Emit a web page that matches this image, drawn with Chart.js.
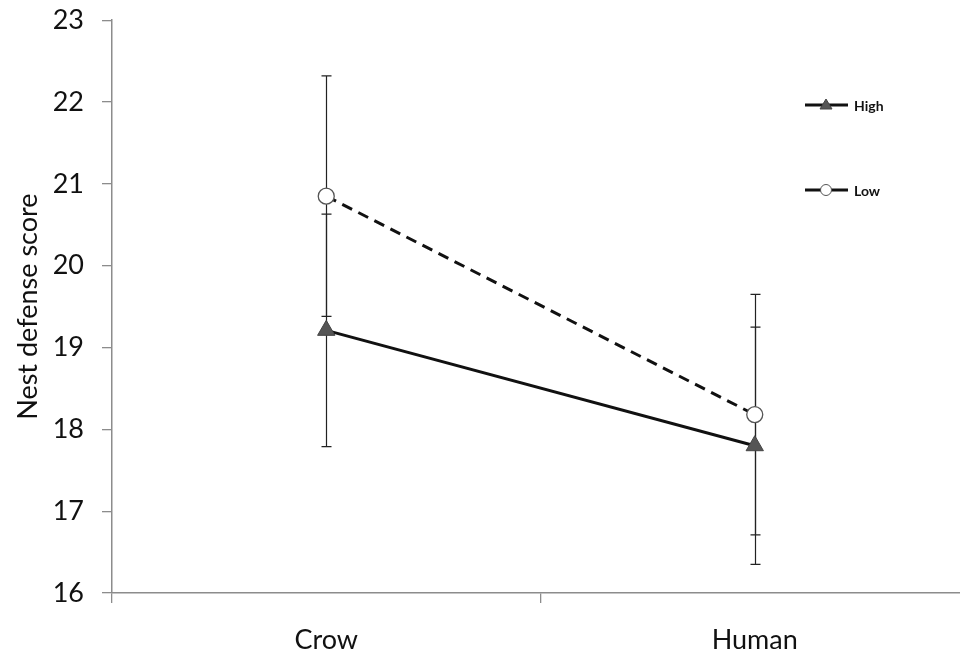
<!DOCTYPE html>
<html>
<head>
<meta charset="utf-8">
<script src="https://cdn.jsdelivr.net/npm/chart.js@4"></script>
<style>
  html, body { margin: 0; padding: 0; background: #fff; overflow: hidden; }
  #wrap { width: 960px; height: 658px; position: relative; overflow: hidden; }
  #c { position: absolute; left: 0; top: -14px; }
</style>
</head>
<body>
<div id="wrap"><canvas id="c" width="980" height="672"></canvas></div>
<script>
// Stimulus type on the x axis
const categories = ['Crow', 'Human'];
// Group means and half-widths of the error bars
const highMean = [19.21, 17.80];
const highErr  = [1.42, 1.45];
const lowMean  = [20.85, 18.18];
const lowErr   = [1.47, 1.47];
// Y axis range and step
const yTicks = [16, 17, 18, 19, 20, 21, 22, 23];

const FONT = 'Lato, "Liberation Sans", sans-serif';

// Vertical error bars with caps, drawn under the lines and markers
const errorBars = {
  id: 'errorBars',
  beforeDatasetsDraw(chart) {
    const ctx = chart.ctx;
    const x = chart.scales.x, y = chart.scales.y;
    ctx.save();
    ctx.strokeStyle = '#222';
    ctx.lineWidth = 1.2;
    chart.data.datasets.forEach(ds => {
      ds.data.forEach((v, i) => {
        const e = ds.errors[i];
        const px = Math.round(x.getPixelForValue(i)) + 0.5;
        const top = y.getPixelForValue(v + e);
        const bot = y.getPixelForValue(v - e);
        ctx.beginPath();
        ctx.moveTo(px, top); ctx.lineTo(px, bot);
        ctx.moveTo(px - 5, top); ctx.lineTo(px + 5, top);
        ctx.moveTo(px - 5, bot); ctx.lineTo(px + 5, bot);
        ctx.stroke();
      });
    });
    ctx.restore();
  }
};

// Key at the upper right: short line with the marker and a bold label
const keyBox = {
  id: 'keyBox',
  afterDraw(chart) {
    const ctx = chart.ctx;
    const rows = [119, 204];
    ctx.save();
    chart.data.datasets.forEach((ds, k) => {
      const yy = rows[k];
      const x0 = 805, x1 = 848, xm = 826;
      ctx.strokeStyle = '#111';
      ctx.lineWidth = 3;
      ctx.setLineDash([]);
      ctx.beginPath(); ctx.moveTo(x0, yy); ctx.lineTo(x1, yy); ctx.stroke();
      ctx.lineWidth = 1;
      ctx.fillStyle = ds.pointBackgroundColor;
      ctx.strokeStyle = ds.pointBorderColor;
      ctx.beginPath();
      if (ds.pointStyle === 'triangle') {
        ctx.moveTo(xm, yy - 6); ctx.lineTo(xm + 6, yy + 4); ctx.lineTo(xm - 6, yy + 4); ctx.closePath();
      } else {
        ctx.arc(xm, yy, 5.5, 0, Math.PI * 2);
      }
      ctx.fill(); ctx.stroke();
      ctx.fillStyle = '#111';
      ctx.font = 'bold 14px ' + FONT;
      ctx.textBaseline = 'middle';
      ctx.textAlign = 'left';
      ctx.fillText(ds.label, 854, yy + 1);
    });
    ctx.restore();
  }
};

new Chart(document.getElementById('c'), {
  type: 'line',
  data: {
    labels: categories,
    datasets: [
      {
        label: 'High',
        data: highMean,
        errors: highErr,
        borderColor: '#111',
        borderWidth: 3,
        pointStyle: 'triangle',
        pointRadius: 10,
        pointBackgroundColor: '#555',
        pointBorderColor: '#444',
        pointBorderWidth: 1,
        tension: 0
      },
      {
        label: 'Low',
        data: lowMean,
        errors: lowErr,
        borderColor: '#111',
        borderWidth: 3,
        borderDash: [11, 7],
        pointStyle: 'circle',
        pointRadius: 8,
        pointBackgroundColor: '#fff',
        pointBorderColor: '#555',
        pointBorderWidth: 1.3,
        tension: 0
      }
    ]
  },
  options: {
    responsive: false,
    animation: false,
    layout: { padding: { left: 0, top: 9, right: 0, bottom: 0 } },
    plugins: { legend: { display: false }, tooltip: { enabled: false } },
    scales: {
      x: {
        type: 'category',
        offset: true,
        grid: { offset: true, drawOnChartArea: false, drawTicks: true, tickLength: 10, color: '#8c8c8c', lineWidth: 1.3 },
        border: { color: '#8c8c8c', width: 1.5 },
        ticks: { color: '#111', font: { family: FONT, size: 27 }, padding: 21 },
        afterFit(s) { s.height = 65; }
      },
      y: {
        min: yTicks[0],
        max: yTicks[yTicks.length - 1],
        afterBuildTicks(s) { s.ticks = yTicks.map(v => ({ value: v })); },
        grid: { drawOnChartArea: false, drawTicks: true, tickLength: 10, color: '#8c8c8c', lineWidth: 1.3 },
        border: { color: '#8c8c8c', width: 1.5 },
        ticks: { color: '#111', font: { family: FONT, size: 27 }, padding: 18 },
        title: { display: true, text: 'Nest defense score', color: '#111', font: { family: FONT, size: 27 }, padding: { top: 12, bottom: 6 } },
        afterFit(s) { s.width = 112; }
      }
    }
  },
  plugins: [errorBars, keyBox]
});
</script>
</body>
</html>
